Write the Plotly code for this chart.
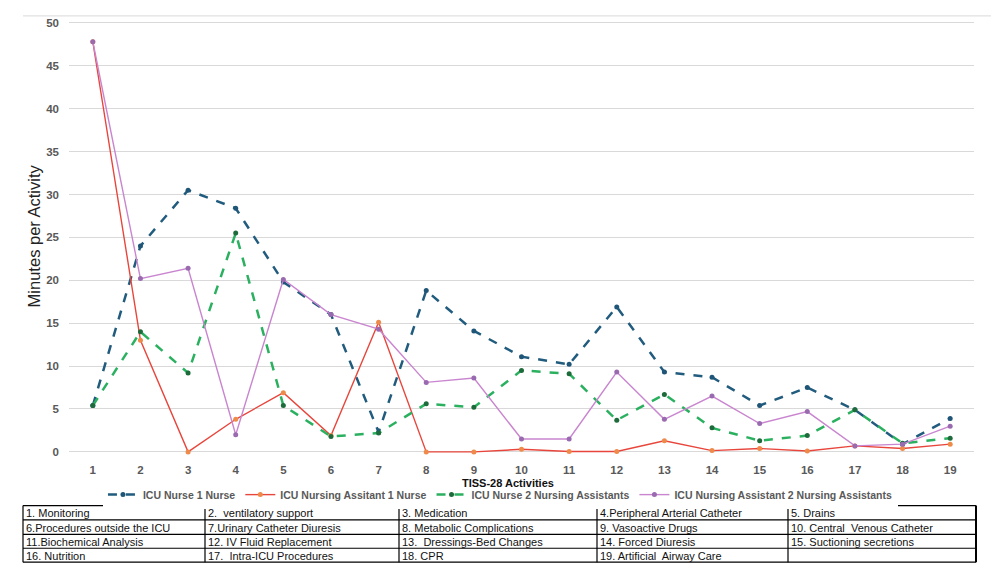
import plotly.graph_objects as go

# TISS-28 activities 1..19
activities = list(range(1, 20))

nurse_1 = [5.4, 24.0, 30.5, 28.4, 19.8, 16.0, 2.3, 18.8, 14.1, 11.1, 10.2, 16.9, 9.3, 8.7,
           5.4, 7.5, 4.9, 0.9, 3.9]
assistant_1 = [47.8, 13.0, 0.0, 3.8, 6.9, 1.9, 15.1, 0.0, 0.0, 0.3, 0.05, 0.05, 1.3, 0.15,
               0.4, 0.1, 0.7, 0.4, 0.9]
nurse_2 = [5.4, 14.0, 9.2, 25.5, 5.4, 1.8, 2.2, 5.6, 5.2, 9.5, 9.1, 3.7, 6.7, 2.8,
           1.3, 1.9, 4.9, 1.0, 1.6]
assistant_2 = [47.8, 20.2, 21.4, 2.0, 20.1, 16.0, 14.3, 8.1, 8.6, 1.5, 1.5, 9.3, 3.8, 6.5,
               3.3, 4.7, 0.7, 0.9, 3.0]

series_names = ["ICU Nurse 1 Nurse", "ICU Nursing Assitant 1 Nurse",
                "ICU Nurse 2 Nursing Assistants", "ICU Nursing Assistant 2 Nursing Assistants"]

# key to the activity numbers, one list per table column
key_col1 = ["1. Monitoring", "6.Procedures outside the ICU", "11.Biochemical Analysis", "16. Nutrition"]
key_col2 = ["2.  ventilatory support", "7.Urinary Catheter Diuresis", "12. IV Fluid Replacement",
            "17.  Intra-ICU Procedures"]
key_col3 = ["3. Medication", "8. Metabolic Complications", "13.  Dressings-Bed Changes", "18. CPR"]
key_col4 = ["4.Peripheral Arterial Catheter", "9. Vasoactive Drugs", "14. Forced Diuresis",
            "19. Artificial  Airway Care"]
key_col5 = ["5. Drains", "10. Central  Venous Catheter", "15. Suctioning secretions", ""]

W, H = 991, 586
gray = "#595959"
tick_font = dict(family="Liberation Sans", size=11.5, color=gray, weight="bold")


def px(x):
    return x / W


def py(y):
    return (H - y) / H


fig = go.Figure()

fig.add_trace(go.Scatter(
    x=activities, y=nurse_1, name=series_names[0], mode="lines+markers",
    line=dict(color="#215C7E", width=2.5, dash="dash"),
    marker=dict(color="#1F5576", size=5), cliponaxis=False
))
fig.add_trace(go.Scatter(
    x=activities, y=assistant_1, name=series_names[1], mode="lines+markers",
    line=dict(color="#E8463C", width=1.4),
    marker=dict(color="#EE8A4A", size=5), cliponaxis=False
))
fig.add_trace(go.Scatter(
    x=activities, y=nurse_2, name=series_names[2], mode="lines+markers",
    line=dict(color="#2BB060", width=2.5, dash="dash"),
    marker=dict(color="#1D6B3A", size=5), cliponaxis=False
))
fig.add_trace(go.Scatter(
    x=activities, y=assistant_2, name=series_names[3], mode="lines+markers",
    line=dict(color="#C985CF", width=1.4),
    marker=dict(color="#9A6AB0", size=5), cliponaxis=False
))

# key table below the chart, drawn as grid lines + text
cols = [key_col1, key_col2, key_col3, key_col4, key_col5]
col_edges = [23, 205, 399, 597, 788, 976]
row_edges = [507, 521.5, 536, 550, 564]
table_font = dict(family="Liberation Sans", size=11, color="#111111")

shapes = [dict(type="line", xref="paper", yref="paper", x0=px(23), x1=1, y0=py(14), y1=py(14),
               line=dict(color="#D9D9D9", width=1))]
for ry in row_edges:
    shapes.append(dict(type="line", xref="paper", yref="paper", x0=px(col_edges[0]),
                       x1=px(col_edges[-1]), y0=py(ry), y1=py(ry),
                       line=dict(color="black", width=1.2)))
for i, cx in enumerate(col_edges):
    shapes.append(dict(type="line", xref="paper", yref="paper", x0=px(cx), x1=px(cx),
                       y0=py(row_edges[0]), y1=py(row_edges[-1]),
                       line=dict(color="black", width=2 if i == len(col_edges) - 1 else 1.2)))

annotations = [
    dict(text="Minutes per Activity", x=px(34), y=py(236), xref="paper", yref="paper",
         textangle=-90, showarrow=False, xanchor="center", yanchor="middle",
         font=dict(family="Liberation Sans", size=16.5, color="#222222")),
    dict(text="<b>TISS-28 Activities</b>", x=px(508), y=py(484), xref="paper",
         yref="paper", showarrow=False, xanchor="center", yanchor="middle",
         font=dict(family="Liberation Sans", size=11, color="#111111")),
]
for i, col in enumerate(cols):
    for j, label in enumerate(col):
        if not label:
            continue
        annotations.append(dict(
            text=label, x=px(col_edges[i] + 1), y=py((row_edges[j] + row_edges[j + 1]) / 2 + 0.5),
            xref="paper", yref="paper", xanchor="left", yanchor="middle",
            showarrow=False, font=table_font))

fig.update_layout(
    width=W, height=H,
    margin=dict(l=0, r=0, t=0, b=0),
    paper_bgcolor="white", plot_bgcolor="white",
    showlegend=True,
    legend=dict(orientation="h", x=0.505, xanchor="center", y=py(496), yanchor="middle",
                font=dict(family="Liberation Sans", size=10.5, color=gray, weight="bold"),
                itemwidth=30, tracegroupgap=0),
    xaxis=dict(domain=[px(69), px(974)], range=[0.5, 19.5], tickmode="array",
               tickvals=activities, showgrid=False, zeroline=False, showline=False,
               tickfont=tick_font, ticks="", ticklabelstandoff=5),
    yaxis=dict(domain=[py(457.3), py(16.7)], range=[-0.5, 50.5], dtick=5,
               gridcolor="#D9D9D9", gridwidth=1, zeroline=False, showline=False,
               tickfont=tick_font, ticks="", ticklabelstandoff=9),
    annotations=annotations,
    shapes=shapes,
)

fig.write_html("out.html", config={"displayModeBar": False},
               post_script="document.body.style.margin='0px';")
